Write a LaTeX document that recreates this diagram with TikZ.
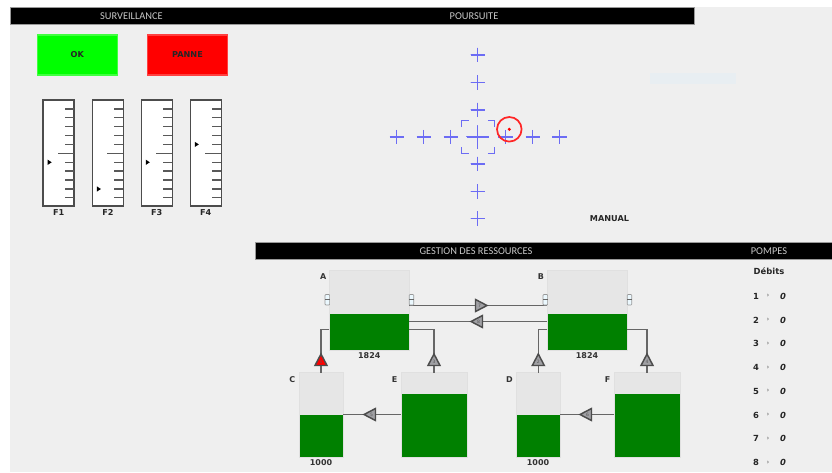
\documentclass[tikz,border=0pt]{standalone}
\usepackage{fontspec}
\setmainfont{DejaVu Sans}
\newfontfamily\hdfont{Carlito}
\definecolor{panel}{HTML}{EFEFEF}
\definecolor{tankfill}{HTML}{E6E6E6}
\definecolor{tankgreen}{HTML}{008000}
\definecolor{hdtext}{HTML}{C8C8C8}
\definecolor{crossblue}{HTML}{6C6CF4}
\definecolor{pumpgray}{HTML}{A0A0A4}
\definecolor{pipe}{HTML}{666666}
\definecolor{statusbg}{HTML}{E8EEF2}
\tikzset{
  x=0.75pt,y=-0.75pt,
  hdbar/.style={fill=black,draw=gray!80,line width=0.4pt},
  hdlabel/.style={text=hdtext,font=\hdfont\fontsize{7.8}{8}\selectfont,inner sep=0pt},
  boldlabel/.style={font=\bfseries\fontsize{6.1}{7}\selectfont,text=black!85,inner sep=0pt},
  smalllabel/.style={font=\bfseries\fontsize{6}{7}\selectfont,text=black!80,inner sep=0pt},
  gaugebox/.style={draw=black!70,fill=white,line width=1.1pt},
  tick/.style={draw=black!65,line width=1pt},
  crossline/.style={draw=crossblue,line width=1pt},
  tankline/.style={draw=black!12,line width=0.4pt},
  pipeline/.style={draw=pipe,line width=1.1pt},
  pump/.style={fill=pumpgray,draw=black!70,line width=1.1pt,line join=miter},
  pumpred/.style={fill=red,draw=black!70,line width=1.1pt,line join=miter},
  pumpnum/.style={font=\fontsize{3.4}{4}\selectfont,text=black!65,inner sep=0pt},
  rowlabel/.style={font=\bfseries\fontsize{6.3}{7}\selectfont,text=black!85,inner sep=0pt},
  rowval/.style={font=\bfseries\itshape\fontsize{6.3}{7}\selectfont,text=black!85,inner sep=0pt},
  rowsep/.style={font=\bfseries\fontsize{5}{6}\selectfont,text=black!50,inner sep=0pt},
}
\newcommand{\gauge}[3]{% x, pointer y, name
  \draw[gaugebox] (#1,100) rectangle (#1+31,206);
  \foreach \ty in {109,117.8,126.7,135.6,144.4,162.2,171.1,180,188.9,197.7}
    \draw[tick] (#1+22,\ty) -- (#1+31,\ty);
  \draw[tick] (#1+15,153.3) -- (#1+31,153.3);
  \fill[black] (#1+4.5,#2-2.6) -- (#1+8.5,#2) -- (#1+4.5,#2+2.6) -- cycle;
  \node[boldlabel] at (#1+15.5,212.5) {#3};
}
\newcommand{\crossmark}[3]{% x,y,half-size
  \draw[crossline] (#1-#3,#2) -- (#1+#3,#2) (#1,#2-#3) -- (#1,#2+#3);
}
\newcommand{\tank}[6]{% name,x1,x2,split,top,bottom
  \fill[tankfill] (#2,#5) rectangle (#3,#4);
  \fill[tankgreen] (#2,#4) rectangle (#3,#6);
  \draw[tankline] (#2,#5) rectangle (#3,#6);
  \coordinate (#1) at (#2,#5);
}
\newcommand{\pumpdown}[4][pump]{% style,x,y,num : apex up
  \draw[#1] (#2,#3-6) -- (#2+6,#3+5.5) -- (#2-6,#3+5.5) -- cycle;
  \node[pumpnum] at (#2,#3+1.5) {#4};
}
\newcommand{\pumpright}[3]{%
  \draw[pump] (#1+6,#2) -- (#1-5.5,#2-6) -- (#1-5.5,#2+6) -- cycle;
  \node[pumpnum] at (#1-1.5,#2) {#3};
}
\newcommand{\pumpleft}[3]{%
  \draw[pump] (#1-6,#2) -- (#1+5.5,#2-6) -- (#1+5.5,#2+6) -- cycle;
  \node[pumpnum] at (#1+1.5,#2) {#3};
}
\newcommand{\rowitem}[2]{%
  \node[rowlabel] at (756,#2) {#1};
  \node[rowsep] at (768,#2) {›};
  \node[rowval] at (783,#2) {0};
}
\begin{document}
\begin{tikzpicture}
\useasboundingbox (0,0) rectangle (832,472);
\fill[white] (0,0) rectangle (832,472);
\fill[panel] (10,7) rectangle (832,472);
% header bars
\draw[hdbar] (10,7) rectangle (694,24);
\node[hdlabel] (hsurv) at (131.5,16) {SURVEILLANCE};
\node[hdlabel] (hpours) at (474,16) {POURSUITE};
\draw[hdbar] (255,242) rectangle (832,259);
\node[hdlabel] (hgest) at (476,251) {GESTION DES RESSOURCES};
\node[hdlabel] (hpomp) at (769,251) {POMPES};
% buttons
\node[draw=green!75!white,fill=green,line width=0.8pt,minimum width=60pt,minimum height=30pt,inner sep=0pt,font=\bfseries\fontsize{6.1}{7}\selectfont,text=black!85] (ok) at (77.2,55) {OK};
\node[draw=red!75!white,fill=red,line width=0.8pt,minimum width=60.5pt,minimum height=30pt,inner sep=0pt,font=\bfseries\fontsize{6.1}{7}\selectfont,text=black!85] (panne) at (187.5,55) {PANNE};
% gauges
\gauge{43.2}{162.3}{F1}
\gauge{92.4}{189}{F2}
\gauge{141.3}{162.3}{F3}
\gauge{190.3}{144.4}{F4}
% crosshair field
\foreach \cx in {396.7,423.7,450.7,505.3,532.7,559.3} \crossmark{\cx}{137}{7.2}
\foreach \cy in {55,82.5,110,164,191.5,218.3} \crossmark{477.7}{\cy}{7.2}
\draw[crossline] (466.5,137) -- (488.8,137) (477.7,125.5) -- (477.7,148.5);
\draw[crossline] (461.7,127) -- (461.7,120.2) -- (468.5,120.2);
\draw[crossline] (487.8,120.2) -- (494.5,120.2) -- (494.5,127);
\draw[crossline] (461.7,147) -- (461.7,153.6) -- (468.5,153.6);
\draw[crossline] (487.8,153.6) -- (494.5,153.6) -- (494.5,147);
\draw[red!85!white,line width=1.3pt] (509.3,129.3) circle[radius=12.3];
\fill[red] (509.3,129.3) circle[radius=1.7];
\node[boldlabel] (manual) at (609.5,218.5) {MANUAL};
% faint status box
\node[fill=statusbg,minimum width=64.5pt,minimum height=8.5pt,inner sep=0pt] (status) at (693,78.3) {};
% tanks
\tank{ta}{329.4}{409}{314}{270}{350}
\tank{tb}{547.4}{627}{314}{270}{350}
\tank{tc}{299}{343}{415}{372.5}{457}
\tank{te}{401}{467.3}{393.5}{372.5}{457}
\tank{td}{516}{560.4}{415}{372.5}{457}
\tank{tf}{614}{680}{393.5}{372.5}{457}
% pipes
\draw[pipeline] (409,305.5) -- (547.4,305.5);
\draw[pipeline] (409,321.5) -- (547.4,321.5);
\draw[pipeline] (329.4,329.5) -- (321,329.5) -- (321,372.5);
\draw[pipeline] (409,329.5) -- (434,329.5) -- (434,372.5);
\draw[pipeline] (547.4,329.5) -- (538.3,329.5) -- (538.3,372.5);
\draw[pipeline] (627,329.5) -- (647,329.5) -- (647,372.5);
\draw[pipeline] (343,414.5) -- (401,414.5);
\draw[pipeline] (560.4,414.5) -- (614,414.5);
% level tabs
\foreach \tx in {325,409.2,543,627.2}{
  \draw[black!40,fill=cyan!8,line width=0.5pt,rounded corners=0.6pt] (\tx,294.5) rectangle (\tx+4.6,305);
  \draw[black!60,line width=0.5pt] (\tx,299.7) -- (\tx+4.6,299.7);
}
% pumps
\pumpdown[pumpred]{321}{360}{1}
\pumpdown{434}{360}{3}
\pumpdown{538.3}{360}{2}
\pumpdown{647}{360}{4}
\pumpright{481}{305.5}{7}
\pumpleft{477}{321.5}{8}
\pumpleft{370}{414.5}{5}
\pumpleft{586}{414.5}{6}
% tank labels
\node[smalllabel] (la) at (323.3,277) {A};
\node[smalllabel] (lb) at (540.8,277) {B};
\node[smalllabel] (lc) at (292.2,379.5) {C};
\node[smalllabel] (le) at (394.6,379.5) {E};
\node[smalllabel] (ld) at (509.5,379.5) {D};
\node[smalllabel] (lf) at (607.5,379.5) {F};
\node[smalllabel] (va) at (369.3,355.5) {1824};
\node[smalllabel] (vb) at (587,355.5) {1824};
\node[smalllabel] (vc) at (321,462.5) {1000};
\node[smalllabel] (vd) at (538,462.5) {1000};
% flows
\node[rowlabel] (deb) at (769,271.5) {Débits};
\rowitem{1}{296}
\rowitem{2}{320}
\rowitem{3}{343.5}
\rowitem{4}{367.5}
\rowitem{5}{391}
\rowitem{6}{415}
\rowitem{7}{438.5}
\rowitem{8}{462.5}
\end{tikzpicture}
\end{document}
